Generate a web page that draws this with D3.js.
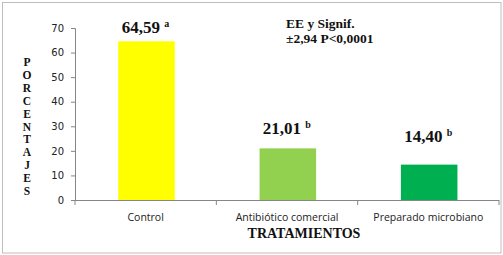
<!DOCTYPE html>
<html>
<head>
<meta charset="utf-8">
<script src="https://cdn.jsdelivr.net/npm/d3@7"></script>
<style>
  body { margin: 0; background: #fff; }
</style>
</head>
<body>
<div id="chart"></div>
<script>
// data
var categories = ["Control", "Antibiótico comercial", "Preparado microbiano"];
var values = [64.59, 21.01, 14.40];
var valueLabels = ["64,59", "21,01", "14,40"];
var letters = ["a", "b", "b"];
var yTicks = [0, 10, 20, 30, 40, 50, 60, 70];
var barColors = ["#FFFF00", "#92D050", "#00B050"];
var labelGap = [8, 14, 23];

var svgWidth = 503;
var svgHeight = 255;

var margin = { top: 28, right: 4, bottom: 55, left: 75 };
var width = 499 - margin.left;
var height = 200 - margin.top;

var svg = d3.select("#chart")
    .append("svg")
    .attr("width", svgWidth)
    .attr("height", svgHeight);

// outer frame
svg.append("rect")
    .attr("x", 2.5).attr("y", 2.5)
    .attr("width", 498.5).attr("height", 250.5)
    .attr("fill", "#fff")
    .attr("stroke", "#BEBEBE")
    .attr("stroke-width", 1);

var chartGroup = svg.append("g")
    .attr("transform", `translate(${margin.left}, ${margin.top})`);

var xScale = d3.scaleBand()
    .domain(categories)
    .range([0, width])
    .paddingInner(0.6)
    .paddingOuter(0.3)
    .align(0.51);

var yScale = d3.scaleLinear()
    .domain([0, 70])
    .range([height, 0]);

// bars
chartGroup.selectAll(".bar")
    .data(values)
    .enter()
    .append("rect")
    .attr("class", "bar")
    .attr("x", (d, i) => xScale(categories[i]))
    .attr("y", d => yScale(d))
    .attr("width", xScale.bandwidth())
    .attr("height", d => height - yScale(d))
    .attr("fill", (d, i) => barColors[i]);

// y axis
var leftAxis = d3.axisLeft(yScale).tickValues(yTicks).tickSize(4).tickPadding(7);
var yAxisG = chartGroup.append("g").call(leftAxis);
yAxisG.select(".domain").attr("stroke", "#868686");
yAxisG.selectAll(".tick line").attr("stroke", "#868686");
yAxisG.selectAll("text")
    .attr("font-family", "Verdana, 'DejaVu Sans', sans-serif")
    .attr("font-size", "10px")
    .attr("fill", "#222");

// x axis with ticks at band boundaries
var xAxisG = chartGroup.append("g")
    .attr("transform", `translate(0, ${height})`);
xAxisG.append("line")
    .attr("x1", 0).attr("x2", width)
    .attr("y1", 0.5).attr("y2", 0.5)
    .attr("stroke", "#868686");
var step = width / categories.length;
xAxisG.selectAll(".xtick")
    .data(d3.range(categories.length + 1))
    .enter()
    .append("line")
    .attr("x1", d => d * step).attr("x2", d => d * step)
    .attr("y1", 0).attr("y2", 5)
    .attr("stroke", "#868686");
xAxisG.selectAll(".xlabel")
    .data(categories)
    .enter()
    .append("text")
    .attr("x", (d, i) => (i + 0.5) * step)
    .attr("y", 21)
    .attr("text-anchor", "middle")
    .attr("font-family", "'Open Sans', sans-serif")
    .attr("font-size", "10.5px")
    .attr("fill", "#222")
    .text(d => d);

// value labels with superscript letters
var serif = "'Liberation Serif', 'Times New Roman', serif";
chartGroup.selectAll(".vlabel")
    .data(values)
    .enter()
    .append("text")
    .attr("x", (d, i) => xScale(categories[i]) + xScale.bandwidth() / 2 - 1)
    .attr("y", (d, i) => yScale(d) - labelGap[i])
    .attr("text-anchor", "middle")
    .attr("font-family", serif)
    .attr("font-weight", "bold")
    .attr("font-size", "17px")
    .attr("fill", "#111")
    .each(function (d, i) {
        var t = d3.select(this);
        t.append("tspan").text(valueLabels[i] + " ");
        t.append("tspan")
            .attr("font-size", "10px")
            .attr("dy", -6)
            .text(letters[i]);
    });

// annotation
var note = svg.append("text")
    .attr("font-family", serif)
    .attr("font-weight", "bold")
    .attr("font-size", "13.5px")
    .attr("fill", "#111");
note.append("tspan").attr("x", 286).attr("y", 28).text("EE y Signif.");
note.append("tspan").attr("x", 286).attr("y", 43).text("±2,94 P<0,0001");

// y title, stacked letters
var yTitle = "PORCENTAJES".split("");
svg.selectAll(".ytitle")
    .data(yTitle)
    .enter()
    .append("text")
    .attr("x", 27)
    .attr("y", (d, i) => 66 + i * 12.9)
    .attr("text-anchor", "middle")
    .attr("font-family", serif)
    .attr("font-weight", "bold")
    .attr("font-size", "11.5px")
    .attr("fill", "#111")
    .text(d => d);

// x title
svg.append("text")
    .attr("x", 304)
    .attr("y", 238)
    .attr("text-anchor", "middle")
    .attr("font-family", serif)
    .attr("font-weight", "bold")
    .attr("font-size", "14px")
    .attr("fill", "#111")
    .text("TRATAMIENTOS");
</script>
</body>
</html>
